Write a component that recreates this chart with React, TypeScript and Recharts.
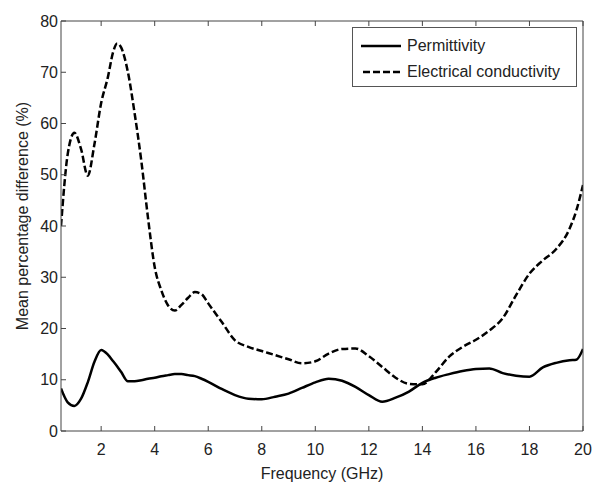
import { LineChart, Line, XAxis, YAxis } from 'recharts'

const freq = [0.5, 0.75, 1, 1.25, 1.5, 1.75, 2, 2.25, 2.45, 2.6, 2.75, 3, 3.25, 3.5, 3.75, 4, 4.25, 4.5, 4.75, 5, 5.25, 5.5, 5.75, 6, 6.5, 7, 7.5, 8, 8.5, 9, 9.5, 10, 10.5, 11, 11.5, 12, 12.5, 13, 13.5, 14, 14.5, 15, 15.5, 16, 16.5, 17, 17.5, 18, 18.5, 19, 19.5, 19.75, 20]
const permittivity = [8.3, 5.6, 4.9, 6.3, 9.5, 13.5, 15.8, 14.9, 13.6, 12.6, 11.5, 9.7, 9.7, 9.9, 10.2, 10.4, 10.7, 10.9, 11.1, 11.1, 10.9, 10.7, 10.2, 9.6, 8.2, 7.0, 6.3, 6.2, 6.7, 7.3, 8.4, 9.5, 10.2, 9.8, 8.6, 7.0, 5.7, 6.5, 7.7, 9.4, 10.4, 11.1, 11.7, 12.1, 12.2, 11.3, 10.8, 10.6, 12.4, 13.3, 13.8, 13.9, 16.0]
const conductivity = [40, 54, 58.2, 55, 49.8, 56, 64, 69, 74, 75.6, 74.8, 70, 62, 52.7, 41.6, 32, 27.4, 24.5, 23.5, 24.6, 26, 27.1, 26.7, 24.9, 21.3, 17.7, 16.4, 15.6, 14.8, 14, 13.2, 13.6, 15.1, 16.0, 16.1, 14.6, 12.5, 10.4, 9.2, 9.1, 11.5, 14.5, 16.4, 17.8, 19.6, 22, 26.5, 30.7, 33.3, 35.5, 39.5, 43, 48]

const xTicks = [2, 4, 6, 8, 10, 12, 14, 16, 18, 20]
const yTicks = [0, 10, 20, 30, 40, 50, 60, 70, 80]

const data = freq.map((f, i) => ({ f, perm: permittivity[i], cond: conductivity[i] }))

const font = 'Liberation Sans, Arial, sans-serif'
const axisColor = '#444'
const textColor = '#222'

// legend sits over the plot, outside recharts' layout so it doesn't eat plot height
const LegendBox = () => (
  <div style={{ position: 'absolute', left: 352, top: 27, width: 225, height: 60, border: '1px solid #555', background: '#fff', boxSizing: 'border-box', fontFamily: font, fontSize: 16, color: textColor, padding: '5px 0 0 8px' }}>
    <div style={{ display: 'flex', alignItems: 'center', height: 26 }}>
      <svg width={42} height={10} style={{ marginRight: 4 }}><line x1={0} y1={5} x2={40} y2={5} stroke="#000" strokeWidth={2.5} /></svg>
      Permittivity
    </div>
    <div style={{ display: 'flex', alignItems: 'center', height: 26 }}>
      <svg width={42} height={10} style={{ marginRight: 4 }}><line x1={2} y1={5} x2={40} y2={5} stroke="#000" strokeWidth={2.5} strokeDasharray="7 3" /></svg>
      Electrical conductivity
    </div>
  </div>
)

export default function App() {
  return (
    <div style={{ position: 'absolute', left: 0, top: 0, width: 601, height: 495, background: '#fff' }}>
      <LineChart width={601} height={495} data={data} margin={{ top: 19, right: 16, left: 11, bottom: 24 }}>
        <XAxis dataKey="f" type="number" domain={[0.5, 20]} ticks={xTicks} allowDataOverflow
          height={40} tickSize={-5} tickMargin={18} stroke={axisColor}
          tick={{ fill: textColor, fontSize: 16, fontFamily: font }}
          label={{ value: 'Frequency (GHz)', position: 'insideBottom', offset: -8, fill: textColor, fontSize: 16, fontFamily: font }} />
        <XAxis xAxisId="top" orientation="top" dataKey="f" type="number" domain={[0.5, 20]} ticks={xTicks} allowDataOverflow
          height={2} tickSize={-5} tickFormatter={() => ''} stroke={axisColor} />
        <YAxis type="number" domain={[0, 80]} ticks={yTicks} width={50} tickSize={-5} tickMargin={8} stroke={axisColor}
          tick={{ fill: textColor, fontSize: 16, fontFamily: font }}
          label={{ value: 'Mean percentage difference (%)', angle: -90, position: 'insideLeft', offset: 11, dy: -10, fill: textColor, fontSize: 16, fontFamily: font, style: { textAnchor: 'middle' } }} />
        <YAxis yAxisId="right" orientation="right" type="number" domain={[0, 80]} ticks={yTicks} width={2}
          tickSize={-5} tickFormatter={() => ''} stroke={axisColor} />
        <Line type="monotone" dataKey="perm" name="Permittivity" stroke="#000" strokeWidth={2.5} dot={false} isAnimationActive={false} />
        <Line type="monotone" dataKey="cond" name="Electrical conductivity" stroke="#000" strokeWidth={2.5} strokeDasharray="7 3" dot={false} isAnimationActive={false} />
      </LineChart>
      <LegendBox />
    </div>
  )
}
